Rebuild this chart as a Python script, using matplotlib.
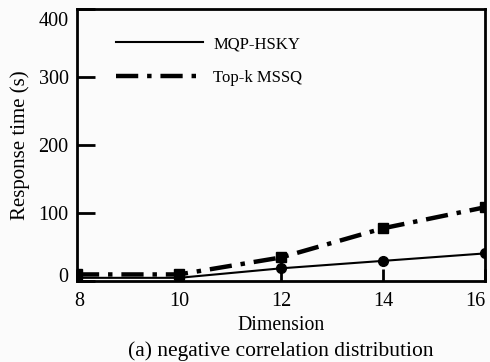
import matplotlib
matplotlib.use('Agg')
import matplotlib.pyplot as plt
from matplotlib.lines import Line2D
from matplotlib.transforms import ScaledTranslation

dims = [8, 10, 12, 14, 16]
mqpHsky = [4, 4, 18, 29, 40]
topkMssq = [9, 9, 34, 77, 108]

plt.rcParams['font.family'] = ['Liberation Serif', 'DejaVu Serif']

fig = plt.figure(figsize=(4.9, 3.62), dpi=100, facecolor='#fbfbfb')
ax = fig.add_axes([0.157, 0.225, 0.833, 0.75], facecolor='#fbfbfb')

# lines
ax.plot(dims, mqpHsky, color='black', linewidth=1.5, marker='o', markersize=7, zorder=3)
ax.plot(dims, topkMssq, color='black', linewidth=3.2, linestyle=(0, (5, 2, 1, 2)),
        marker='s', markersize=7, zorder=3)

ax.set_xlim(8, 16)
ax.set_ylim(0, 400)
ax.set_xticks(dims)
ax.set_yticks([0, 100, 200, 300, 400])

for s in ax.spines.values():
    s.set_linewidth(2)

ax.tick_params(axis='y', direction='in', length=13, width=2, labelsize=14.5, pad=6)
ax.tick_params(axis='x', direction='in', length=9, width=2, labelsize=14.5, pad=8.5)

# nudge the edge labels like the original
fig.canvas.draw()
ylabs = ax.get_yticklabels()
ylabs[0].set_transform(ylabs[0].get_transform() + ScaledTranslation(0, 4 / 72, fig.dpi_scale_trans))
ylabs[-1].set_transform(ylabs[-1].get_transform() + ScaledTranslation(0, -7 / 72, fig.dpi_scale_trans))
xlabs = ax.get_xticklabels()
xlabs[0].set_transform(xlabs[0].get_transform() + ScaledTranslation(2 / 72, 0, fig.dpi_scale_trans))
xlabs[-1].set_transform(xlabs[-1].get_transform() + ScaledTranslation(-7 / 72, 0, fig.dpi_scale_trans))

ax.set_xlabel('Dimension', fontsize=14.3, labelpad=3)
ax.set_ylabel('Response time (s)', fontsize=15, labelpad=6)

handles = [Line2D([], [], color='black', linewidth=1.5),
           Line2D([], [], color='black', linewidth=3.2, linestyle=(0, (5, 2, 1, 2)))]
ax.legend(handles, ['MQP-HSKY', 'Top-k MSSQ'], loc='upper left', frameon=False,
          fontsize=12, handlelength=5.2, handletextpad=0.6, labelspacing=1.05,
          bbox_to_anchor=(0.06, 0.955))

fig.text(0.573, 0.016, '(a) negative correlation distribution', fontsize=15.5, ha='center')

plt.savefig('out.png', dpi=100, facecolor=fig.get_facecolor())
